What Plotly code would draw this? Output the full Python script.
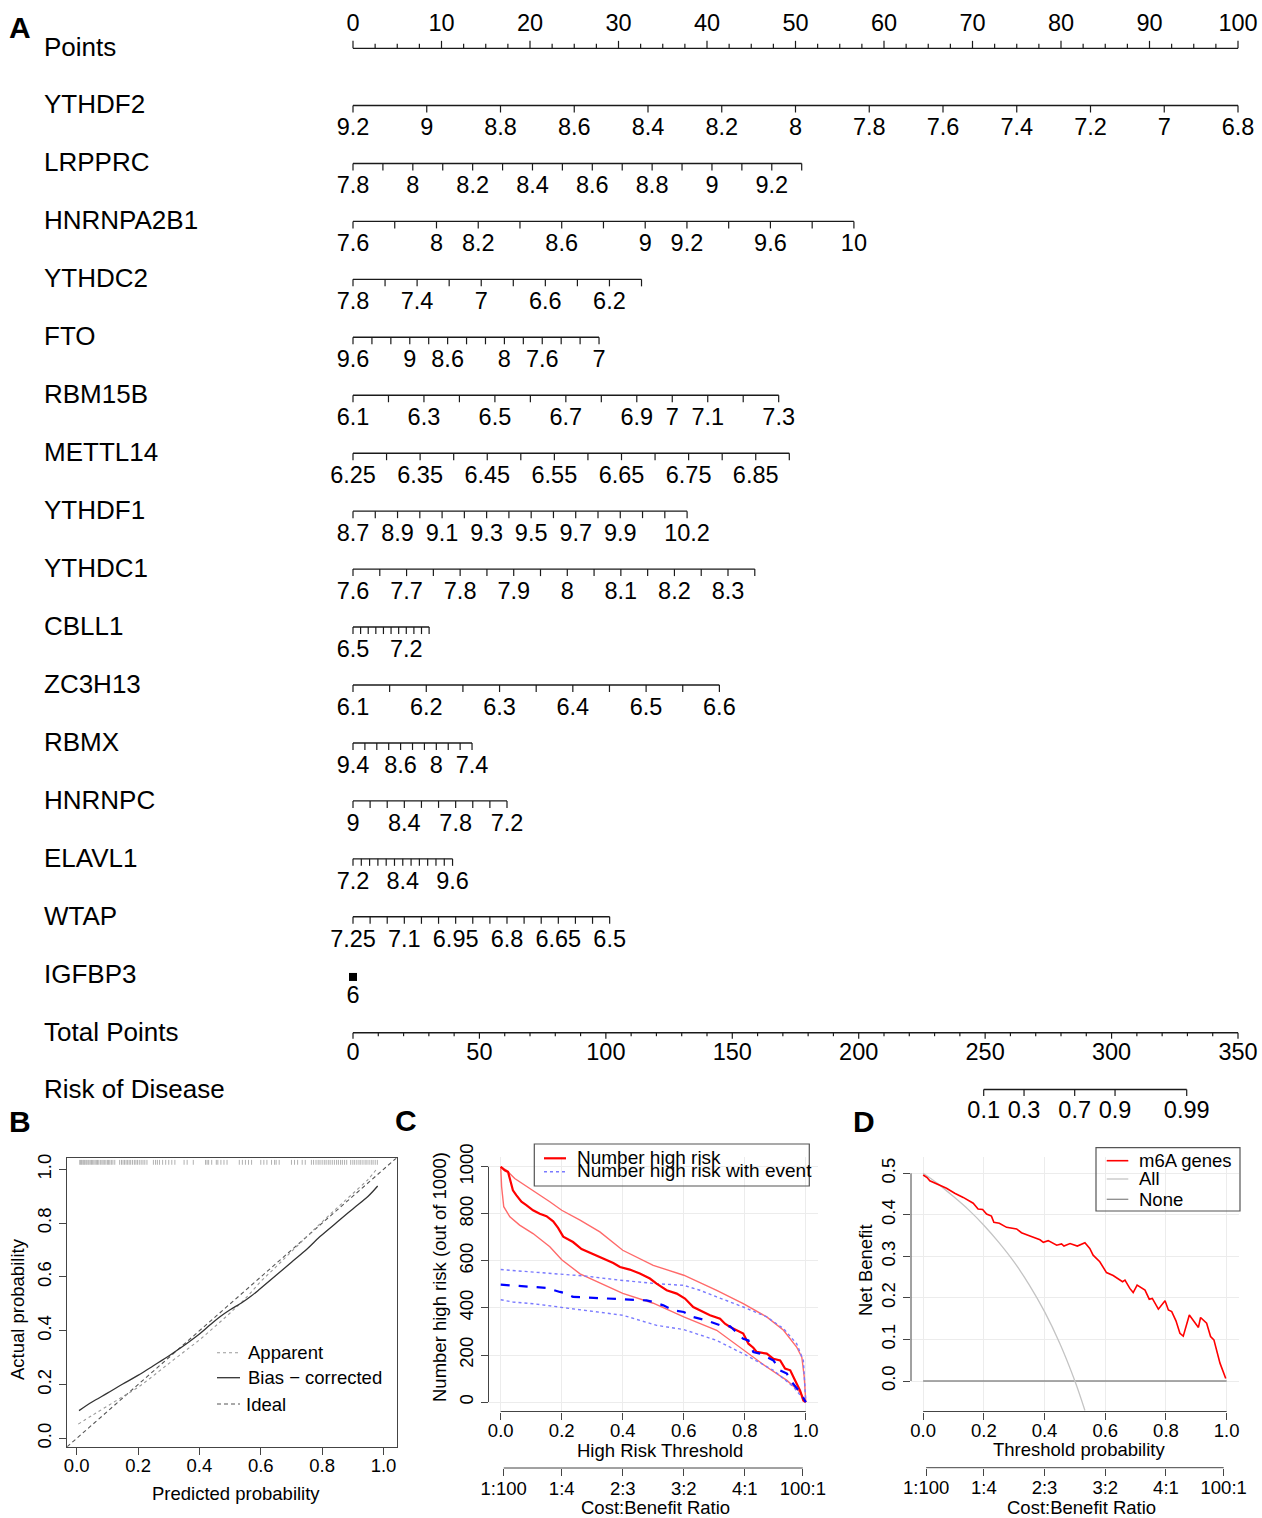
import numpy as np
import plotly.graph_objects as go

W, H = 1262, 1518
FONT = "Liberation Sans, Arial, Helvetica, sans-serif"


def fx(px):
    return px / W


def fy(py):
    return 1 - py / H


# ---------------- Panel A : nomogram ----------------
points_major = [0, 10, 20, 30, 40, 50, 60, 70, 80, 90, 100]
points_minor_step = 2.5

var_names = ["YTHDF2", "LRPPRC", "HNRNPA2B1", "YTHDC2", "FTO", "RBM15B", "METTL14",
             "YTHDF1", "YTHDC1", "CBLL1", "ZC3H13", "RBMX", "HNRNPC", "ELAVL1", "WTAP", "IGFBP3"]
var_value_at_zero = [9.2, 7.8, 7.6, 7.8, 9.6, 6.1, 6.25, 8.7, 7.6, 6.5, 6.1, 9.4, 9.0, 7.2, 7.25, 6.0]
var_value_at_end = [6.8, 9.3, 10.0, 6.0, 7.0, 7.3, 6.9, 10.2, 8.35, 7.5, 6.6, 7.4, 7.2, 9.6, 6.5, 6.0]
var_points_at_end = [100, 50.7, 56.6, 32.6, 27.8, 48.1, 49.3, 37.75, 45.4, 8.6, 41.4, 13.45, 17.4, 11.25, 29.0, 0]
var_tick_step = [0.2, 0.1, 0.2, 0.2, 0.2, 0.1, 0.05, 0.1, 0.05, 0.1, 0.05, 0.2, 0.2, 0.2, 0.05, 0]
var_labels = [
    ["9.2", "9", "8.8", "8.6", "8.4", "8.2", "8", "7.8", "7.6", "7.4", "7.2", "7", "6.8"],
    ["7.8", "8", "8.2", "8.4", "8.6", "8.8", "9", "9.2"],
    ["7.6", "8", "8.2", "8.6", "9", "9.2", "9.6", "10"],
    ["7.8", "7.4", "7", "6.6", "6.2"],
    ["9.6", "9", "8.6", "8", "7.6", "7"],
    ["6.1", "6.3", "6.5", "6.7", "6.9", "7", "7.1", "7.3"],
    ["6.25", "6.35", "6.45", "6.55", "6.65", "6.75", "6.85"],
    ["8.7", "8.9", "9.1", "9.3", "9.5", "9.7", "9.9", "10.2"],
    ["7.6", "7.7", "7.8", "7.9", "8", "8.1", "8.2", "8.3"],
    ["6.5", "7.2"],
    ["6.1", "6.2", "6.3", "6.4", "6.5", "6.6"],
    ["9.4", "8.6", "8", "7.4"],
    ["9", "8.4", "7.8", "7.2"],
    ["7.2", "8.4", "9.6"],
    ["7.25", "7.1", "6.95", "6.8", "6.65", "6.5"],
    ["6"],
]
total_points_major = [0, 50, 100, 150, 200, 250, 300, 350]
total_points_minor_step = 10
total_points_full = 350          # total points that line up with 100 on the Points scale
risk_ticks = [0.1, 0.3, 0.7, 0.9, 0.99]
risk_labels = ["0.1", "0.3", "0.7", "0.9", "0.99"]
risk_tp_at_logit0 = 275.4
risk_tp_per_logit = 11.82

# ---------------- Panel B : calibration ----------------
cal_app_x = [0.005, 0.05, 0.1, 0.15, 0.2, 0.25, 0.3, 0.35, 0.4, 0.45, 0.5, 0.55, 0.6, 0.65,
             0.7, 0.75, 0.8, 0.85, 0.9, 0.95, 0.977]
cal_app_y = [0.053, 0.085, 0.12, 0.155, 0.19, 0.233, 0.278, 0.322, 0.366, 0.415, 0.466, 0.52,
             0.583, 0.638, 0.694, 0.75, 0.805, 0.858, 0.91, 0.963, 1.0]
cal_bias_x = [0.0075, 0.05, 0.1, 0.15, 0.201, 0.25, 0.3, 0.337, 0.37, 0.402, 0.435, 0.467, 0.5,
              0.538, 0.57, 0.598, 0.65, 0.7, 0.75, 0.793, 0.85, 0.9, 0.95, 0.981]
cal_bias_y = [0.103, 0.135, 0.168, 0.202, 0.235, 0.27, 0.306, 0.335, 0.362, 0.39, 0.422, 0.452, 0.478,
              0.504, 0.53, 0.556, 0.606, 0.655, 0.703, 0.75, 0.805, 0.853, 0.9, 0.938]
ideal_xy = [-0.1, 1.1]
rug = [0.01, 0.013, 0.016, 0.02, 0.023, 0.026, 0.03, 0.033, 0.037, 0.04, 0.044, 0.048, 0.052,
       0.056, 0.06, 0.064, 0.068, 0.072, 0.077, 0.082, 0.086, 0.09, 0.095, 0.1, 0.104, 0.108,
       0.113, 0.118, 0.124, 0.14, 0.146, 0.151, 0.156, 0.161, 0.166, 0.171, 0.176, 0.182, 0.188,
       0.193, 0.198, 0.204, 0.21, 0.216, 0.222, 0.229, 0.25, 0.257, 0.263, 0.27, 0.28, 0.29,
       0.3, 0.31, 0.32, 0.35, 0.36, 0.38, 0.42, 0.425, 0.43, 0.44, 0.455, 0.46, 0.47, 0.48,
       0.49, 0.53, 0.54, 0.55, 0.56, 0.57, 0.6, 0.61, 0.62, 0.635, 0.645, 0.65, 0.66, 0.7,
       0.71, 0.72, 0.735, 0.745, 0.765, 0.772, 0.78, 0.787, 0.793, 0.8, 0.807, 0.813, 0.82,
       0.826, 0.833, 0.84, 0.847, 0.853, 0.86, 0.866, 0.873, 0.88, 0.893, 0.9, 0.906, 0.913,
       0.92, 0.926, 0.933, 0.94, 0.946, 0.953, 0.96, 0.966, 0.973, 0.98]

# ---------------- Panel C : clinical impact ----------------
c_hr_x = [0, 0.013, 0.024, 0.04, 0.051, 0.068, 0.084, 0.106, 0.128, 0.15, 0.172, 0.188, 0.205,
          0.237, 0.265, 0.298, 0.336, 0.369, 0.391, 0.423, 0.456, 0.489, 0.511, 0.544, 0.577,
          0.604, 0.631, 0.664, 0.686, 0.719, 0.735, 0.752, 0.774, 0.795, 0.812, 0.828, 0.839,
          0.856, 0.872, 0.894, 0.916, 0.932, 0.949, 0.965, 0.981, 0.992, 1.0]
c_hr_y = [1000, 985, 978, 900, 879, 851, 837, 815, 800, 790, 768, 740, 703, 680, 650, 631, 610,
          591, 574, 563, 546, 525, 503, 475, 461, 440, 404, 383, 369, 354, 333, 319, 305, 291,
          248, 231, 213, 208, 206, 184, 177, 142, 135, 92, 50, 7, 0]
c_hr_hi_x = [0, 0.019, 0.046, 0.106, 0.161, 0.2, 0.26, 0.325, 0.4, 0.5, 0.6, 0.708, 0.795, 0.872,
             0.927, 0.97, 0.987, 0.995, 1.0]
c_hr_hi_y = [1000, 985, 950, 900, 851, 815, 773, 723, 645, 581, 539, 475, 418, 362, 305, 234, 191,
             106, 0]
c_hr_lo_x = [0, 0.003, 0.01, 0.03, 0.062, 0.106, 0.161, 0.2, 0.26, 0.325, 0.4, 0.5, 0.6, 0.708,
             0.806, 0.872, 0.938, 0.981, 1.0]
c_hr_lo_y = [1000, 915, 830, 787, 752, 716, 660, 605, 545, 505, 462, 420, 362, 305, 213, 149, 92,
             43, 0]
c_ev_x = [0, 0.04, 0.106, 0.15, 0.194, 0.216, 0.237, 0.281, 0.325, 0.38, 0.434, 0.478, 0.5, 0.533,
          0.566, 0.6, 0.63, 0.675, 0.72, 0.752, 0.795, 0.812, 0.828, 0.85, 0.872, 0.894, 0.916,
          0.938, 0.954, 0.981, 1.0]
c_ev_y = [499, 496, 489, 485, 468, 461, 447, 444, 442, 440, 435, 432, 425, 411, 390, 383, 362, 347,
          326, 322, 269, 262, 213, 206, 191, 177, 135, 121, 85, 43, 0]
c_ev_hi_x = [0, 0.106, 0.194, 0.281, 0.39, 0.511, 0.6, 0.653, 0.708, 0.795, 0.872, 0.927, 0.97,
             0.992, 1.0]
c_ev_hi_y = [563, 553, 546, 535, 518, 503, 496, 475, 447, 404, 362, 312, 248, 177, 0]
c_ev_lo_x = [0, 0.04, 0.106, 0.194, 0.281, 0.4, 0.511, 0.6, 0.708, 0.806, 0.894, 0.96, 1.0]
c_ev_lo_y = [435, 425, 418, 404, 390, 369, 326, 308, 262, 198, 135, 64, 0]

cost_benefit_pos = [1 / 101, 0.2, 0.4, 0.6, 0.8, 100 / 101]
cost_benefit_labels = ["1:100", "1:4", "2:3", "3:2", "4:1", "100:1"]

# ---------------- Panel D : decision curve ----------------
d_m6a_x = [0, 0.013, 0.022, 0.055, 0.077, 0.104, 0.132, 0.165, 0.181, 0.196, 0.209, 0.225, 0.233,
           0.251, 0.275, 0.308, 0.324, 0.352, 0.385, 0.396, 0.412, 0.44, 0.456, 0.464, 0.484,
           0.508, 0.533, 0.549, 0.56, 0.582, 0.604, 0.626, 0.657, 0.665, 0.681, 0.692, 0.705,
           0.731, 0.745, 0.755, 0.775, 0.797, 0.808, 0.819, 0.833, 0.846, 0.857, 0.877, 0.89,
           0.907, 0.914, 0.934, 0.947, 0.958, 0.978, 0.997]
d_m6a_y = [0.496, 0.49, 0.482, 0.472, 0.464, 0.452, 0.442, 0.428, 0.414, 0.413, 0.402, 0.397,
           0.382, 0.38, 0.37, 0.366, 0.357, 0.349, 0.34, 0.334, 0.338, 0.327, 0.33, 0.325, 0.331,
           0.325, 0.333, 0.319, 0.303, 0.287, 0.261, 0.254, 0.239, 0.243, 0.223, 0.213, 0.231,
           0.219, 0.197, 0.199, 0.173, 0.193, 0.171, 0.167, 0.145, 0.115, 0.108, 0.159, 0.147,
           0.129, 0.153, 0.139, 0.107, 0.099, 0.043, 0.006]
d_all_x = [0, 0.05, 0.1, 0.15, 0.2, 0.25, 0.3, 0.35, 0.4, 0.45, 0.5, 0.533]
d_all_y = [0.5, 0.474, 0.444, 0.412, 0.375, 0.333, 0.286, 0.231, 0.167, 0.091, 0.0, -0.071]
d_none_x = [0, 1]
d_none_y = [0, 0]

# =====================================================
fig = go.Figure()
BLK = "#1a1a1a"

# ---- Panel A geometry (pixel rows on a pixel y-axis) ----
ROW0, ROW_STEP = 105.5, 57.95
row_y = [ROW0 + ROW_STEP * i for i in range(len(var_names))]
points_y = ROW0 - ROW_STEP + 0.8
total_y = ROW0 + ROW_STEP * 16
risk_y = ROW0 + ROW_STEP * 17 - 1.2
TICK, LAB = 7, 24
NOMO_FS = 23.5

lx, ly, tx, ty = [], [], [], []
labx, laby, labt = [], [], []

# Points scale (ticks up, labels above)
lx += [points_major[0], points_major[-1], None]
ly += [points_y, points_y, None]
for p in np.arange(points_major[0], points_major[-1] + 1e-9, points_minor_step):
    major = abs(p / 10 - round(p / 10)) < 1e-9
    tx += [p, p, None]
    ty += [points_y, points_y - (7.5 if major else 4.5), None]
for p in points_major:
    labx.append(p); laby.append(points_y - 23.5); labt.append(str(p))

sq_x, sq_y = [], []
for i, name in enumerate(var_names):
    v0, v1, pe, st = var_value_at_zero[i], var_value_at_end[i], var_points_at_end[i], var_tick_step[i]
    y = row_y[i]
    if pe == 0:
        sq_x.append(0); sq_y.append(y + 2.2)
        labx.append(0); laby.append(y + 22); labt.append(var_labels[i][0])
        continue

    def pts(v, v0=v0, v1=v1, pe=pe):
        return (v - v0) / (v1 - v0) * pe

    n = int(round(abs(v1 - v0) / st)) + 1
    sgn = 1 if v1 > v0 else -1
    ticks = [v0 + sgn * st * k for k in range(n)]
    lx += [pts(v0), pts(v1), None]
    ly += [y, y, None]
    for v in ticks:
        tx += [pts(v), pts(v), None]
        ty += [y, y + TICK, None]
    for s in var_labels[i]:
        labx.append(pts(float(s))); laby.append(y + LAB); labt.append(s)

# Total points scale
tp_scale = points_major[-1] / total_points_full
lx += [0, total_points_full * tp_scale, None]
ly += [total_y, total_y, None]
for tp in np.arange(0, total_points_full + 1e-9, total_points_minor_step):
    major = tp % 50 == 0
    tx += [tp * tp_scale, tp * tp_scale, None]
    ty += [total_y, total_y + (6 if major else 3.5), None]
for tp in total_points_major:
    labx.append(tp * tp_scale); laby.append(total_y + 21.5); labt.append(str(tp))

# Risk scale
risk_tp = [risk_tp_at_logit0 + risk_tp_per_logit * np.log(p / (1 - p)) for p in risk_ticks]
lx += [risk_tp[0] * tp_scale, risk_tp[-1] * tp_scale, None]
ly += [risk_y, risk_y, None]
for t, s in zip(risk_tp, risk_labels):
    tx += [t * tp_scale, t * tp_scale, None]
    ty += [risk_y, risk_y + 6.5, None]
    labx.append(t * tp_scale); laby.append(risk_y + 23); labt.append(s)

fig.add_trace(go.Scatter(x=lx, y=ly, mode="lines", line=dict(color=BLK, width=1.4),
                         xaxis="x", yaxis="y", hoverinfo="skip"))
fig.add_trace(go.Scatter(x=tx, y=ty, mode="lines", line=dict(color=BLK, width=1.2),
                         xaxis="x", yaxis="y", hoverinfo="skip"))
fig.add_trace(go.Scatter(x=sq_x, y=sq_y, mode="markers",
                         marker=dict(symbol="square", size=8, color="black"),
                         xaxis="x", yaxis="y", hoverinfo="skip"))
fig.add_trace(go.Scatter(x=labx, y=laby, mode="text", text=labt, textposition="middle center",
                         textfont=dict(family=FONT, size=NOMO_FS, color="black"),
                         xaxis="x", yaxis="y", cliponaxis=False, hoverinfo="skip"))

# ---- Panel B traces ----
rx, ry = [], []
for r in rug:
    rx += [r, r, None]
    ry += [1.017, 1.035, None]
fig.add_trace(go.Scatter(x=rx, y=ry, mode="lines", line=dict(color="#a8a8a8", width=0.9),
                         xaxis="x2", yaxis="y2", hoverinfo="skip"))
fig.add_trace(go.Scatter(x=ideal_xy, y=ideal_xy, mode="lines",
                         line=dict(color="#555555", width=1.1, dash="4px,3px"),
                         xaxis="x2", yaxis="y2", hoverinfo="skip"))
fig.add_trace(go.Scatter(x=cal_app_x, y=cal_app_y, mode="lines", line_shape="spline",
                         line=dict(color="#9a9a9a", width=1.1, dash="dot"),
                         xaxis="x2", yaxis="y2", hoverinfo="skip"))
fig.add_trace(go.Scatter(x=cal_bias_x, y=cal_bias_y, mode="lines", line_shape="spline",
                         line=dict(color="#333333", width=1.3),
                         xaxis="x2", yaxis="y2", hoverinfo="skip"))

# ---- Panel C traces ----
RED, RED_L = "#ff0000", "#ff6a6a"
BLUE, BLUE_L = "#0000ff", "#7a7aff"
for xs, ys, col, w, dash in [
    (c_hr_hi_x, c_hr_hi_y, RED_L, 1.4, "solid"),
    (c_hr_lo_x, c_hr_lo_y, RED_L, 1.4, "solid"),
    (c_ev_hi_x, c_ev_hi_y, BLUE_L, 1.4, "dot"),
    (c_ev_lo_x, c_ev_lo_y, BLUE_L, 1.4, "dot"),
    (c_hr_x, c_hr_y, RED, 2.2, "solid"),
    (c_ev_x, c_ev_y, BLUE, 2.2, "dash"),
]:
    fig.add_trace(go.Scatter(x=xs, y=ys, mode="lines", line=dict(color=col, width=w, dash=dash),
                             xaxis="x3", yaxis="y3", hoverinfo="skip"))
fig.add_trace(go.Scatter(x=cost_benefit_pos, y=[None] * len(cost_benefit_pos), mode="markers",
                         xaxis="x4", yaxis="y3", hoverinfo="skip"))

# ---- Panel D traces ----
fig.add_trace(go.Scatter(x=d_none_x, y=d_none_y, mode="lines", line=dict(color="#8c8c8c", width=1.3),
                         xaxis="x5", yaxis="y5", hoverinfo="skip"))
fig.add_trace(go.Scatter(x=d_all_x, y=d_all_y, mode="lines", line_shape="spline",
                         line=dict(color="#c4c4c4", width=1.3),
                         xaxis="x5", yaxis="y5", hoverinfo="skip"))
fig.add_trace(go.Scatter(x=d_m6a_x, y=d_m6a_y, mode="lines", line=dict(color=RED, width=1.6),
                         xaxis="x5", yaxis="y5", hoverinfo="skip"))
fig.add_trace(go.Scatter(x=cost_benefit_pos, y=[None] * len(cost_benefit_pos), mode="markers",
                         xaxis="x6", yaxis="y5", hoverinfo="skip"))

# ---- axes ----
TF = dict(family=FONT, size=18.5, color="black")
AX = "#444444"
x_pts_range = [(0 - 353) / 885 * 100, (W - 353) / 885 * 100]
common = dict(automargin=False, zeroline=False, ticks="outside", ticklen=7, tickcolor=AX, tickfont=TF)
prob_ticks = dict(tickvals=[0, 0.2, 0.4, 0.6, 0.8, 1.0], ticktext=["0.0", "0.2", "0.4", "0.6", "0.8", "1.0"])

layout_axes = dict(
    xaxis=dict(domain=[0, 1], range=x_pts_range, visible=False, fixedrange=True, automargin=False),
    yaxis=dict(domain=[0, 1], range=[H, 0], visible=False, fixedrange=True, automargin=False),
    xaxis2=dict(domain=[fx(66.7), fx(396.7)], range=[-0.0326, 1.043], anchor="y2",
                showline=True, mirror=True, linecolor=AX, linewidth=1, showgrid=False,
                ticklabelstandoff=-5, **prob_ticks, **common),
    yaxis2=dict(domain=[fy(1446.7), fy(1158.3)], range=[-0.031, 1.041], anchor="x2",
                showline=True, mirror=True, linecolor=AX, linewidth=1, showgrid=False,
                tickangle=-90, **prob_ticks, **common),
    xaxis3=dict(domain=[fx(488.5), fx(818)], range=[-0.04, 1.04], anchor="y3",
                showline=False, showgrid=True, gridcolor="#ececec", gridwidth=1,
                ticklabelstandoff=-5, **prob_ticks, **common),
    yaxis3=dict(domain=[fy(1411.5), fy(1157.3)], range=[-40, 1040], anchor="x3",
                tickvals=[0, 200, 400, 600, 800, 1000],
                showline=False, showgrid=True, gridcolor="#ececec", gridwidth=1,
                tickangle=-90, **common),
    xaxis4=dict(overlaying="x3", anchor="free", position=fy(1468), range=[-0.04, 1.04],
                tickvals=cost_benefit_pos, ticktext=cost_benefit_labels, side="bottom",
                ticklabelstandoff=-3, showline=False, showgrid=False, **common),
    xaxis5=dict(domain=[fx(911), fx(1238.8)], range=[-0.04, 1.04], anchor="y5",
                showline=False, showgrid=True, gridcolor="#ececec", gridwidth=1,
                ticklabelstandoff=-5, **prob_ticks, **common),
    yaxis5=dict(domain=[fy(1411.5), fy(1157.3)], range=[-0.0734, 0.5386], anchor="x5",
                tickvals=[0, 0.1, 0.2, 0.3, 0.4, 0.5], ticktext=["0.0", "0.1", "0.2", "0.3", "0.4", "0.5"],
                showline=False, showgrid=True, gridcolor="#ececec", gridwidth=1,
                tickangle=-90, ticklabelstandoff=1, **common),
    xaxis6=dict(overlaying="x5", anchor="free", position=fy(1467.7), range=[-0.04, 1.04],
                tickvals=cost_benefit_pos, ticktext=cost_benefit_labels, side="bottom",
                ticklabelstandoff=-4, showline=False, showgrid=False, **common),
)

shapes = []
# axis lines spanning first..last tick (C and D)
shapes.append(dict(type="line", xref="x3", yref="y3 domain", x0=0, x1=1, y0=0, y1=0,
                   line=dict(color=AX, width=1)))
shapes.append(dict(type="line", xref="x3 domain", yref="y3", x0=0, x1=0, y0=0, y1=1000,
                   line=dict(color=AX, width=1)))
shapes.append(dict(type="line", xref="x4", yref="paper", x0=cost_benefit_pos[0],
                   x1=cost_benefit_pos[-1], y0=fy(1468), y1=fy(1468), line=dict(color=AX, width=1)))
shapes.append(dict(type="line", xref="x5", yref="y5 domain", x0=0, x1=1, y0=0, y1=0,
                   line=dict(color=AX, width=1)))
shapes.append(dict(type="line", xref="x5 domain", yref="y5", x0=0, x1=0, y0=0, y1=0.5,
                   line=dict(color=AX, width=1)))
shapes.append(dict(type="line", xref="x6", yref="paper", x0=cost_benefit_pos[0],
                   x1=cost_benefit_pos[-1], y0=fy(1467.7), y1=fy(1467.7), line=dict(color=AX, width=1)))


def leg_line(x0, x1, y, color, width, dash="solid"):
    shapes.append(dict(type="line", xref="paper", yref="paper", x0=fx(x0), x1=fx(x1),
                       y0=fy(y), y1=fy(y), line=dict(color=color, width=width, dash=dash)))


def leg_box(x0, y0, x1, y1):
    shapes.append(dict(type="rect", xref="paper", yref="paper", x0=fx(x0), x1=fx(x1),
                       y0=fy(y1), y1=fy(y0), line=dict(color="#555555", width=1.2),
                       fillcolor="rgba(255,255,255,0)"))


# B legend
leg_line(217, 240, 1352.7, "#9a9a9a", 1.1, "dot")
leg_line(217, 240, 1377.7, "#333333", 1.3)
leg_line(217, 240, 1404, "#555555", 1.1, "4px,3px")
# C legend
leg_box(534.3, 1144, 809.3, 1186)
leg_line(544, 566, 1158.3, RED, 2.2)
leg_line(544, 566, 1171.7, BLUE_L, 1.4, "dot")
# D legend
leg_box(1096, 1147.7, 1240, 1211)
leg_line(1106.7, 1128.3, 1160.7, RED, 1.6)
leg_line(1106.7, 1128.3, 1179, "#c4c4c4", 1.3)
leg_line(1106.7, 1128.3, 1199.3, "#8c8c8c", 1.3)

annotations = []


def txt(s, x, y, size=18.5, anchor="left", angle=0, bold=False):
    annotations.append(dict(text=f"<b>{s}</b>" if bold else s, x=fx(x), y=fy(y), xref="paper",
                            yref="paper", xanchor=anchor, yanchor="middle", showarrow=False,
                            textangle=angle, borderpad=0,
                            font=dict(family=FONT, size=size, color="black")))


# row names
ROW_FS = 26
txt("Points", 43, points_y - 1, size=ROW_FS)
for name, y in zip(var_names, row_y):
    txt(name, 43, y - 1, size=ROW_FS)
txt("Total Points", 43, total_y - 1, size=ROW_FS)
txt("Risk of Disease", 43, risk_y, size=ROW_FS)

# panel letters
txt("A", 8, 27, size=30, bold=True)
txt("B", 8, 1121, size=30, bold=True)
txt("C", 394, 1120, size=30, bold=True)
txt("D", 852, 1121, size=30, bold=True)

# B texts
txt("Predicted probability", 236, 1493, anchor="center")
txt("Actual probability", 17, 1309, anchor="center", angle=-90)
txt("Apparent", 247, 1352.7)
txt("Bias \u2212 corrected", 247, 1377.7)
txt("Ideal", 245, 1404)
# C texts
txt("High Risk Threshold", 660, 1450.5, anchor="center")
txt("Cost:Benefit Ratio", 655, 1507, anchor="center")
txt("Number high risk (out of 1000)", 439.3, 1276.7, anchor="center", angle=-90)
txt("Number high risk", 576, 1157, size=19)
txt("Number high risk with event", 576, 1170.5, size=19)
# D texts
txt("Threshold probability", 1079.3, 1449.3, anchor="center")
txt("Cost:Benefit Ratio", 1081.7, 1507, anchor="center")
txt("Net Benefit", 865, 1270, anchor="center", angle=-90)
txt("m6A genes", 1137.5, 1160, size=18.5)
txt("All", 1137.5, 1178.5, size=18.5)
txt("None", 1137.5, 1199, size=18.5)

fig.update_layout(
    width=W, height=H, autosize=False,
    margin=dict(l=0, r=0, t=0, b=0, pad=0),
    paper_bgcolor="white", plot_bgcolor="rgba(0,0,0,0)",
    showlegend=False,
    font=dict(family=FONT, color="black"),
    shapes=shapes, annotations=annotations,
    **layout_axes,
)

fig.write_html(
    "out.html",
    config={"responsive": False, "displayModeBar": False},
    post_script="document.body.style.margin='0px';document.body.style.overflow='hidden';",
)
